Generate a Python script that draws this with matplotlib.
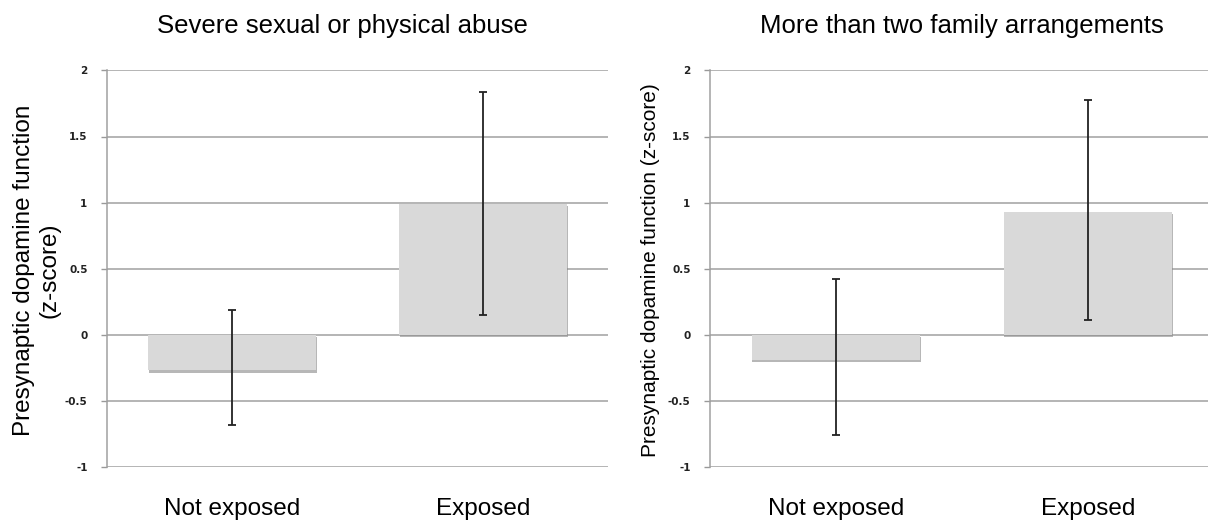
import numpy as np
import matplotlib.pyplot as plt
import matplotlib.patheffects as pe

# Valores (z-score)
categorias = ["Not exposed", "Exposed"]
titulos = ["Severe sexual or physical abuse", "More than two family arrangements"]

abuso_media = [-0.27, 0.99]
abuso_inf = [-0.68, 0.15]
abuso_sup = [0.19, 1.84]

familia_media = [-0.19, 0.93]
familia_inf = [-0.76, 0.11]
familia_sup = [0.42, 1.775]

ticks_y = [-1, -0.5, 0, 0.5, 1, 1.5, 2]
ticks_y_txt = ["-1", "-0.5", "0", "0.5", "1", "1.5", "2"]

plt.rcParams['font.family'] = ['Liberation Sans', 'DejaVu Sans']

fig = plt.figure(figsize=(12.08, 5.29), dpi=100)
W, H = 1208, 529

def panel(rect, media, inf, sup, titulo, tx):
    ax = fig.add_axes(rect)
    x = np.arange(len(categorias))
    media = np.array(media)
    yerr = [media - np.array(inf), np.array(sup) - media]
    bars = ax.bar(x, media, width=0.67, color='#d9d9d9', zorder=2)
    for b in bars:
        b.set_path_effects([pe.SimplePatchShadow(offset=(0.6, -1.5), shadow_rgbFace='#888888', alpha=0.6),
                            pe.Normal()])
    ax.errorbar(x, media, yerr=yerr, fmt='none', ecolor='#222222', elinewidth=1.3,
                capsize=3.2, capthick=1.3, zorder=3)
    ax.set_xlim(-0.5, 1.5)
    ax.set_ylim(-1, 2)
    ax.set_yticks(ticks_y)
    ax.set_yticklabels(ticks_y_txt, family='DejaVu Sans', fontsize=7.5, fontweight='bold', color='#222222')
    ax.set_xticks(x)
    ax.set_xticklabels(categorias, fontsize=17.5)
    ax.tick_params(axis='x', length=0, pad=22)
    ax.tick_params(axis='y', length=4, color='#999999', width=1, pad=10)
    ax.grid(axis='y', color='#a0a0a0', lw=1.1, zorder=0)
    ax.set_axisbelow(True)
    for s in ['top', 'right', 'bottom']:
        ax.spines[s].set_visible(False)
    ax.spines['left'].set_color('#a0a0a0')
    ax.spines['left'].set_linewidth(1.1)
    ax.text(tx, 1.095, titulo, transform=ax.transAxes, ha='center', va='baseline', fontsize=18.5)
    return ax

bottom = (H - 467) / H
height = 396.6 / H
ax1 = panel([107 / W, bottom, 501 / W, height], abuso_media, abuso_inf, abuso_sup, titulos[0], 0.469)
ax2 = panel([710 / W, bottom, 504 / W, height], familia_media, familia_inf, familia_sup, titulos[1], 0.5)

fig.text(37 / W, (H - 270) / H, "Presynaptic dopamine function\n(z-score)", rotation=90,
         ha='center', va='center', fontsize=17.5, linespacing=1.2)
fig.text(650 / W, (H - 270) / H, "Presynaptic dopamine function (z-score)", rotation=90,
         ha='center', va='center', fontsize=15)

fig.savefig("out.png", dpi=100)
